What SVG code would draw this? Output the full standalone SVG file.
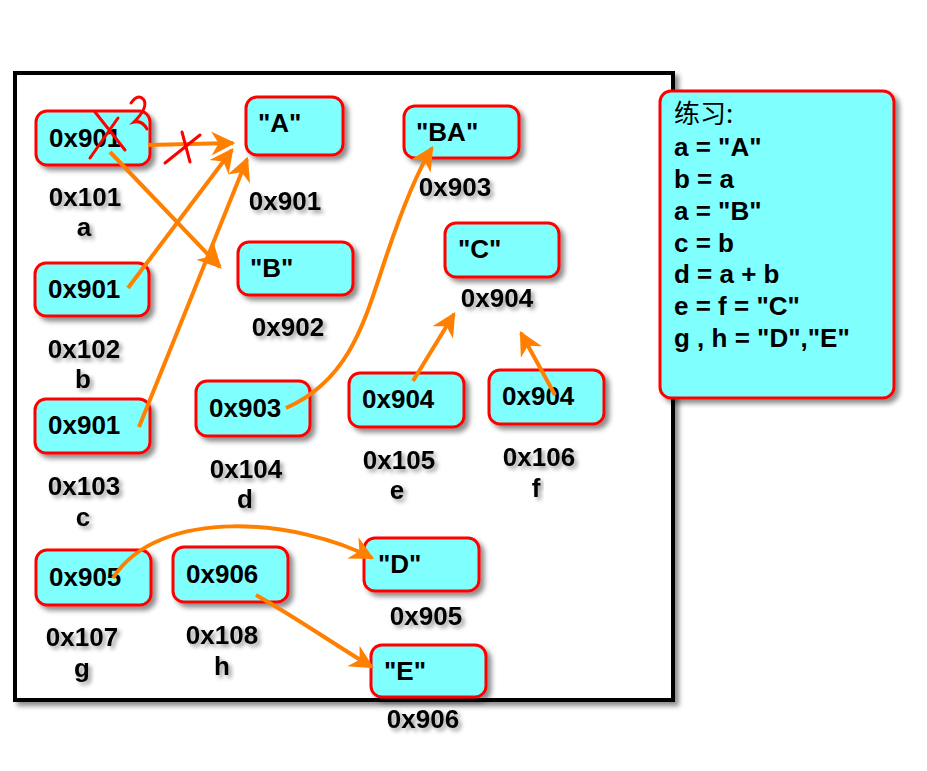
<svg xmlns="http://www.w3.org/2000/svg" width="927" height="771" viewBox="0 0 927 771">
<defs>
<filter id="sh" x="-20%" y="-20%" width="150%" height="150%">
<feDropShadow dx="4" dy="4" stdDeviation="2.5" flood-color="#000" flood-opacity="0.45"/>
</filter>
<filter id="tsh" x="-20%" y="-20%" width="150%" height="160%">
<feDropShadow dx="3" dy="3" stdDeviation="2" flood-color="#000" flood-opacity="0.4"/>
</filter>
<marker id="ah" viewBox="0 0 10 10" refX="9" refY="5" markerWidth="7" markerHeight="6" markerUnits="strokeWidth" orient="auto">
<path d="M0,0 L10,5 L0,10 L3,5 Z" fill="#FF8000"/>
</marker>
<style>
.box{fill:#80FFFF;stroke:#FF0000;stroke-width:3;filter:url(#sh)}
.t{font-family:"Liberation Sans",Arial,sans-serif;font-weight:bold;font-size:26px;fill:#000}
.lbl{font-family:"Liberation Sans",Arial,sans-serif;font-weight:bold;font-size:26px;fill:#000;text-anchor:middle;filter:url(#tsh)}
.p{font-family:"Liberation Sans",Arial,"Noto Sans CJK SC",sans-serif;font-weight:bold;font-size:26px;fill:#000}
.pn{font-family:"Noto Sans CJK SC","Liberation Sans",sans-serif;font-weight:normal;font-size:26px;fill:#000}
.ar{fill:none;stroke:#FF8000;stroke-width:4;marker-end:url(#ah)}
.rx{fill:none;stroke:#FF0000;stroke-width:3;stroke-linecap:round}
</style>
</defs>
<rect width="927" height="771" fill="#fff"/>
<rect id="frame" x="15" y="73" width="658" height="627" fill="#fff" stroke="#000" stroke-width="4" filter="url(#sh)"/>

<g id="node-a"><rect class="box" x="36" y="111" width="114" height="54" rx="11"/><text class="t" x="49" y="147">0x901</text></g>
<g id="node-A"><rect class="box" x="246" y="97" width="97" height="58" rx="11"/><text class="t" x="258" y="132">"A"</text></g>
<g id="node-BA"><rect class="box" x="404" y="106" width="115" height="52" rx="11"/><text class="t" x="416" y="141">"BA"</text></g>
<g id="node-B"><rect class="box" x="238" y="242" width="115" height="53" rx="11"/><text class="t" x="250" y="277">"B"</text></g>
<g id="node-C"><rect class="box" x="445" y="223" width="114" height="54" rx="11"/><text class="t" x="458" y="258">"C"</text></g>
<g id="node-b"><rect class="box" x="35" y="263" width="114" height="53" rx="11"/><text class="t" x="48" y="298">0x901</text></g>
<g id="node-c"><rect class="box" x="35" y="399" width="115" height="54" rx="11"/><text class="t" x="48" y="434">0x901</text></g>
<g id="node-d"><rect class="box" x="196" y="381" width="114" height="55" rx="11"/><text class="t" x="209" y="417">0x903</text></g>
<g id="node-e"><rect class="box" x="349" y="373" width="115" height="54" rx="11"/><text class="t" x="362" y="408">0x904</text></g>
<g id="node-f"><rect class="box" x="489" y="370" width="115" height="54" rx="11"/><text class="t" x="502" y="405">0x904</text></g>
<g id="node-g"><rect class="box" x="36" y="550" width="115" height="55" rx="11"/><text class="t" x="49" y="586">0x905</text></g>
<g id="node-h"><rect class="box" x="173" y="547" width="115" height="55" rx="11"/><text class="t" x="186" y="583">0x906</text></g>
<g id="node-D"><rect class="box" x="364" y="538" width="115" height="53" rx="11"/><text class="t" x="378" y="573">"D"</text></g>
<g id="node-E"><rect class="box" x="371" y="645" width="115" height="52" rx="11"/><text class="t" x="384" y="680">"E"</text></g>

<g id="labels">
<text class="lbl" x="85" y="206">0x101</text><text class="lbl" x="84" y="236">a</text>
<text class="lbl" x="285" y="210">0x901</text>
<text class="lbl" x="288" y="336">0x902</text>
<text class="lbl" x="455" y="196">0x903</text>
<text class="lbl" x="497" y="307">0x904</text>
<text class="lbl" x="84" y="358">0x102</text><text class="lbl" x="83" y="388">b</text>
<text class="lbl" x="84" y="495">0x103</text><text class="lbl" x="83" y="526">c</text>
<text class="lbl" x="246" y="478">0x104</text><text class="lbl" x="245" y="508">d</text>
<text class="lbl" x="399" y="469">0x105</text><text class="lbl" x="397" y="499">e</text>
<text class="lbl" x="539" y="466">0x106</text><text class="lbl" x="536" y="497">f</text>
<text class="lbl" x="82" y="646">0x107</text><text class="lbl" x="82" y="677">g</text>
<text class="lbl" x="222" y="644">0x108</text><text class="lbl" x="222" y="675">h</text>
<text class="lbl" x="426" y="625">0x905</text>
<text class="lbl" x="423" y="728">0x906</text>
</g>

<g id="connectors">
<path class="ar" d="M148,145 L233,143"/>
<path class="ar" d="M110,152 L220,267"/>
<path class="ar" d="M128,288 L232,150"/>
<path class="ar" d="M139,427 L247,159"/>
<path class="ar" d="M286,408 C350,380 365,320 385,260 C400,215 415,175 432,148"/>
<path class="ar" d="M413,381 L454,314"/>
<path class="ar" d="M555,395 L521,333"/>
<path class="ar" d="M113,578 C160,505 300,520 372,558"/>
<path class="ar" d="M256,595 C300,620 335,645 372,667"/>
</g>

<g id="marks">
<path class="rx" d="M95,112 L125,150 M90,158 L118,118"/>
<path class="rx" d="M131,103 Q138,93 144,100 Q148,108 134,122 Q142,120 147,129"/>
<path class="rx" d="M165,163 L200,135 M182,132 L190,162"/>
</g>

<g id="practice">
<rect class="box" x="660" y="91" width="234" height="307" rx="11"/>
<text class="pn" x="674" y="123">练习:</text>
<text class="p" x="674" y="156">a = "A"</text>
<text class="p" x="674" y="188">b = a</text>
<text class="p" x="674" y="220">a = "B"</text>
<text class="p" x="674" y="252">c = b</text>
<text class="p" x="674" y="283">d = a + b</text>
<text class="p" x="674" y="315">e = f = "C"</text>
<text class="p" x="674" y="347">g , h = "D","E"</text>
</g>
</svg>
